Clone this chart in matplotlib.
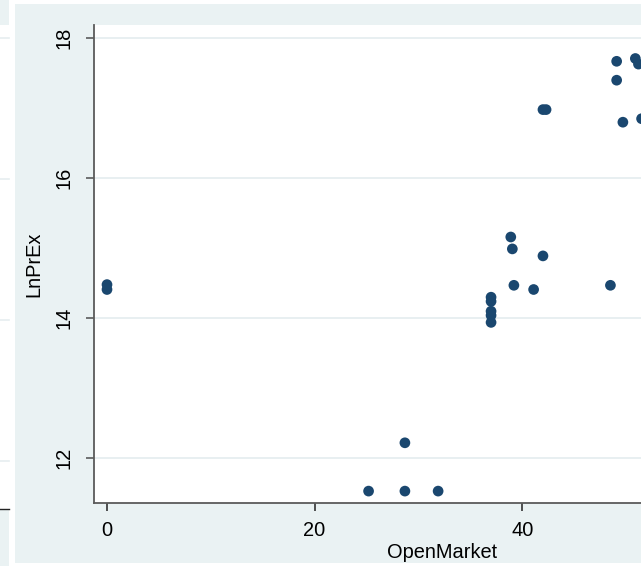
import matplotlib
matplotlib.use("Agg")
import matplotlib.pyplot as plt
from matplotlib.patches import Rectangle
from matplotlib.lines import Line2D

plt.rcParams['font.family'] = ['Liberation Sans', 'DejaVu Sans']

# Observations: OpenMarket vs LnPrEx
open_market = [0, 0, 25.2, 28.7, 28.7, 31.9, 37, 37, 37, 37, 37,
               38.9, 39.05, 39.2, 41.1, 42.0, 42.0, 42.3, 48.5,
               49.1, 49.1, 49.7, 50.9, 51.2, 51.5]
ln_prex = [14.47, 14.40, 11.52, 11.52, 12.21, 11.52, 14.29, 14.23, 14.09, 14.03, 13.93,
           15.15, 14.98, 14.46, 14.40, 14.88, 16.97, 16.97, 14.46,
           17.66, 17.39, 16.79, 17.70, 17.62, 16.84]

x_ticks = [0, 20, 40]
y_ticks = [12, 14, 16, 18]
x_label = "OpenMarket"
y_label = "LnPrEx"

W, H = 641, 567
fig = plt.figure(figsize=(W / 100, H / 100), dpi=100, facecolor='white')

bg = '#eaf2f3'
grid_c = '#e6eef0'
navy = '#1a476f'
axis_c = '#5b5b5b'
fs = 14.4


def px_rect(x0, y0, x1, y1, **kw):
    # rectangle given in pixel coordinates measured from the top-left corner
    return Rectangle((x0 / W, 1 - y1 / H), (x1 - x0) / W, (y1 - y0) / H,
                     transform=fig.transFigure, zorder=-10, **kw)


def px_hline(y, x0, x1, **kw):
    return Line2D([x0 / W, x1 / W], [1 - y / H, 1 - y / H],
                  transform=fig.transFigure, zorder=-9, **kw)


# neighbouring panel strip on the far left
fig.patches.append(px_rect(0, 0, 8.5, 25, facecolor=bg, edgecolor='none'))
fig.patches.append(px_rect(0, 509, 8.5, 566, facecolor=bg, edgecolor='none'))
for gy in [37.7, 179, 320, 461]:
    fig.lines.append(px_hline(gy, 0, 8.5, color=grid_c, lw=1.2))
fig.lines.append(px_hline(509, 0, 8.5, color='#222222', lw=1.0))

# main graph region background (continues past the right edge)
fig.patches.append(px_rect(15, 4, W + 200, 563, facecolor=bg, edgecolor='none'))

# plot region; it runs on beyond the right edge of the canvas
left_px, right_px, top_px, bottom_px = 94, 790, 25, 502.7
ax = fig.add_axes([left_px / W, 1 - bottom_px / H,
                   (right_px - left_px) / W, (bottom_px - top_px) / H])
ax.set_zorder(5)
ax.set_facecolor('white')

x0_px, x_scale = 107.0, 10.38   # pixel of x=0, pixels per unit
y18_px, y_scale = 37.5, 70.0    # pixel of y=18, pixels per unit
ax.set_xlim((left_px - x0_px) / x_scale, (right_px - x0_px) / x_scale)
ax.set_ylim(18 - (bottom_px - y18_px) / y_scale, 18 + (y18_px - top_px) / y_scale)

ax.set_yticks(y_ticks)
ax.set_xticks(x_ticks)
ax.yaxis.grid(True, color=grid_c, lw=1.3)
ax.set_axisbelow(True)

ax.scatter(open_market, ln_prex, s=7.7 ** 2, color=navy, edgecolors='none', zorder=3)

for side in ['top', 'right']:
    ax.spines[side].set_visible(False)
for side in ['left', 'bottom']:
    ax.spines[side].set_color(axis_c)
    ax.spines[side].set_linewidth(1.3)

ax.tick_params(axis='y', direction='out', length=6, width=1.2, color=axis_c,
               labelsize=fs, pad=9, labelrotation=90)
ax.tick_params(axis='x', direction='out', length=6, width=1.2, color='#333333',
               labelsize=fs, pad=7)
for lbl in ax.get_yticklabels():
    lbl.set_va('center')

ax.set_xlabel(x_label, fontsize=fs, labelpad=2)
ax.set_ylabel(y_label, fontsize=fs, labelpad=8)

fig.savefig('out.png', dpi=100, facecolor='white')
